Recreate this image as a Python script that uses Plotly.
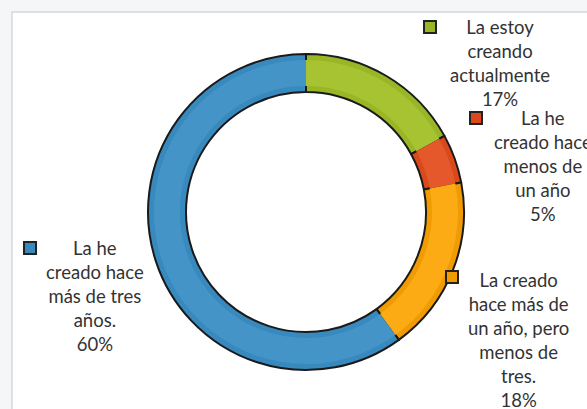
import plotly.graph_objects as go

# Survey answers, clockwise from 12 o'clock
labels = [
    "La estoy<br>creando<br>actualmente",
    "La he<br>creado hace<br>menos de<br>un año",
    "La creado<br>hace más de<br>un año, pero<br>menos de<br>tres.",
    "La he<br>creado hace<br>más de tres<br>años.",
]
values = [17, 5, 18, 60]
colors = ["#98b625", "#d9491b", "#f09b02", "#3789be"]
highlights = ["#a7c332", "#e5582b", "#fcab14", "#4494c7"]

W, H = 587, 409
cx, cy = 306, 212          # donut centre, px from top-left
r_out, r_in = 158, 120     # ring radii, px


def square_domain(r):
    return dict(
        x=[(cx - r) / W, (cx + r) / W],
        y=[(H - cy - r) / H, (H - cy + r) / H],
    )


fig = go.Figure()

# main ring with dark outlines
fig.add_trace(go.Pie(
    values=values, labels=[l.replace("<br>", " ") for l in labels],
    sort=False, direction="clockwise", rotation=0,
    hole=r_in / r_out, domain=square_domain(r_out),
    marker=dict(colors=colors, line=dict(color="#1a1a1a", width=2)),
    textinfo="none", hoverinfo="label+percent", showlegend=False,
))

# lighter inner band for a bevelled look
band = 6
fig.add_trace(go.Pie(
    values=values, sort=False, direction="clockwise", rotation=0,
    hole=(r_in + band) / (r_out - band), domain=square_domain(r_out - band),
    marker=dict(colors=highlights, line=dict(width=0)),
    textinfo="none", hoverinfo="skip", showlegend=False,
))

# label placement: marker square centre and text centre/top (px)
marker_pos = [(430, 27), (476, 118), (452, 277), (30, 248)]
text_pos = [(500, 14), (543, 105), (518, 267), (95, 235)]

shapes = [
    # framed white panel
    dict(type="rect", xref="paper", yref="paper",
         x0=12 / W, x1=1.02, y0=-0.02, y1=1 - 12 / H,
         fillcolor="white", line=dict(color="#d8d8d8", width=1.5),
         layer="below"),
]
annotations = []
s = 6
for (mx, my), (tx, ty), lab, val, col in zip(marker_pos, text_pos, labels, values, colors):
    shapes.append(dict(
        type="rect", xref="paper", yref="paper",
        x0=(mx - s) / W, x1=(mx + s) / W,
        y0=(H - my - s) / H, y1=(H - my + s) / H,
        fillcolor=col, line=dict(color="#222222", width=2),
    ))
    annotations.append(dict(
        xref="paper", yref="paper", x=tx / W, y=1 - ty / H,
        xanchor="center", yanchor="top", showarrow=False,
        text=f"{lab}<br>{val}%", align="center",
        font=dict(family="Lato", size=18.5, color="#333333"),
    ))

fig.update_layout(
    width=W, height=H,
    margin=dict(l=0, r=0, t=0, b=0),
    paper_bgcolor="#f5f6f8",
    shapes=shapes, annotations=annotations,
)

fig.write_html("out.html")
